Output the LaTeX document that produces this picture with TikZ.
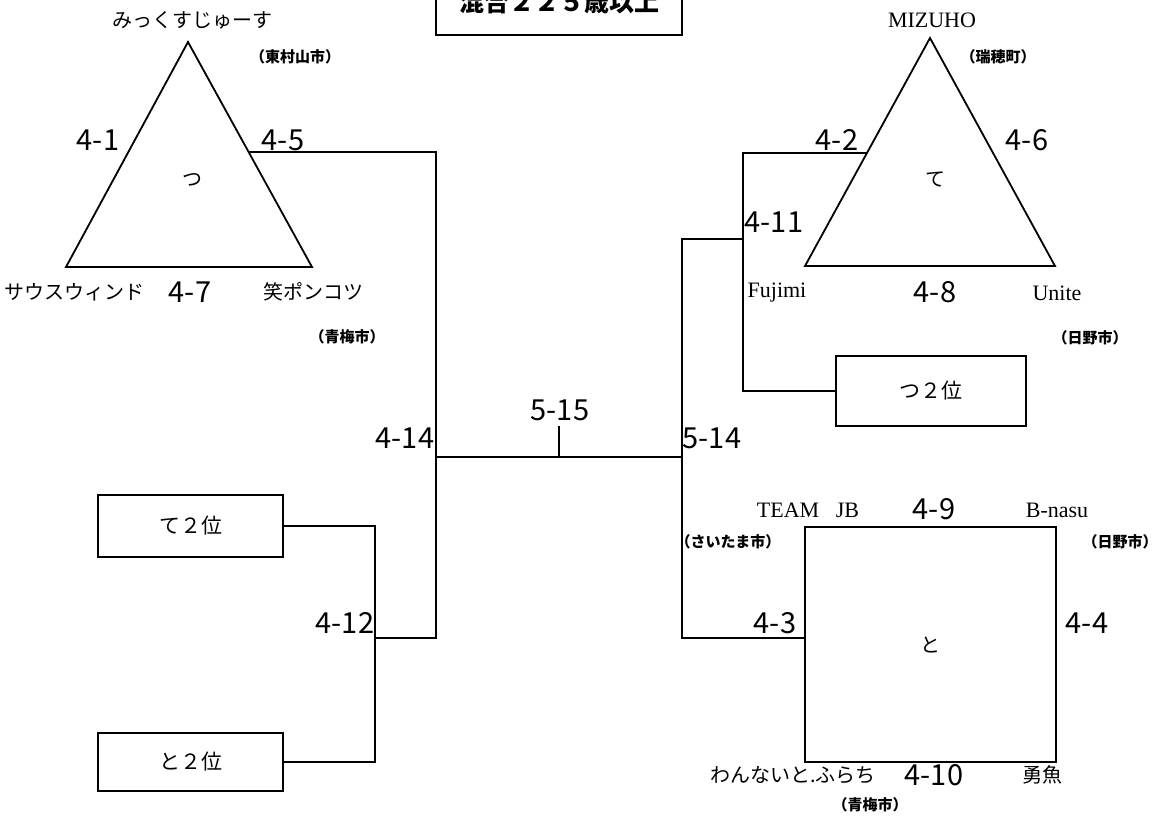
\documentclass[tikz,border=0pt]{standalone}
\usepackage{fontspec}
\setmainfont{Liberation Serif}
\newfontfamily\jpfont{Noto Sans CJK JP}
\usetikzlibrary{calc}
\begin{document}
\begin{tikzpicture}[x=1pt,y=-1pt,line width=1.8pt,
  every node/.style={inner sep=0pt},
  num/.style={font=\jpfont\fontsize{29}{31}\selectfont},
  team/.style={font=\jpfont\fontsize{20}{22}\selectfont},
  eteam/.style={font=\fontsize{22}{24}\selectfont},
  city/.style={font=\jpfont\bfseries\fontsize{15}{17}\selectfont},
  rankbox/.style={draw,minimum width=185pt,font=\jpfont\fontsize{21}{23}\selectfont}]
\useasboundingbox (0,0) rectangle (1160,819);
\node[draw,minimum width=246pt,minimum height=66pt,font=\jpfont\bfseries\fontsize{25}{27}\selectfont] (title) at (559,2) {混合２２５歳以上};
\coordinate (tsA) at (188,42);
\coordinate (tsB) at (66,267);
\coordinate (tsC) at (312,267);
\draw (tsA) -- (tsB) -- (tsC) -- cycle;
\coordinate (c45) at ($(tsA)!0.49!(tsC)$);
\coordinate (ttA) at (930,38);
\coordinate (ttB) at (805,266);
\coordinate (ttC) at (1055,266);
\draw (ttA) -- (ttB) -- (ttC) -- cycle;
\coordinate (c42) at ($(ttA)!0.504!(ttB)$);
\node[draw,minimum width=251pt,minimum height=235pt,team] (to) at (930.5,644.5) {と};
\coordinate (c43) at (805,638);
\node[rankbox,minimum height=62pt] (te2) at (190.5,526) {て２位};
\node[rankbox,minimum height=58pt] (to2) at (190.5,762) {と２位};
\node[rankbox,minimum width=190pt,minimum height=70pt] (tsu2) at (931,391) {つ２位};
\coordinate (m14) at (436,457);
\coordinate (m514) at (682,457);
\coordinate (j12) at (375,638);
\coordinate (j11) at (743,239);
\coordinate (f) at (559,457);
\coordinate (f515) at (559,426);
\draw (c45) -| (m14) |- (j12);
\draw (te2.east) -| (j12) |- (to2.east);
\draw (m14) -- (m514);
\draw (f) -- (f515);
\draw (c42) -| (j11) |- (tsu2.west);
\draw (j11) -| (m514) |- (c43);
\node[team] (tsu) at (192,180) {つ};
\node[team] (te) at (935,180) {て};
\node[team] (n1) at (192,20) {みっくすじゅーす};
\node[team] (n2) at (75,292) {サウスウィンド};
\node[team] (n3) at (313,292) {笑ポンコツ};
\node[eteam] (n4) at (932,20) {MIZUHO};
\node[eteam] (n5) at (777,293) {Fujimi};
\node[eteam] (n6) at (1057,293) {Unite};
\node[eteam] (n7) at (808,510) {TEAM\hspace{0.75em}JB};
\node[eteam] (n8) at (1057,510) {B-nasu};
\node[team] (n9) at (793,775) {わんないと.ふらち};
\node[team] (n10) at (1042,775) {勇魚};
\node[city] (k1) at (295,57) {（東村山市）};
\node[city] (k2) at (347,337) {（青梅市）};
\node[city] (k3) at (998,57) {（瑞穂町）};
\node[city] (k4) at (1090,338) {（日野市）};
\node[city] (k5) at (728,542) {（さいたま市）};
\node[city] (k6) at (1120,542) {（日野市）};
\node[city] (k7) at (870,805) {（青梅市）};
\node[num] (g41) at (98,140) {4-1};
\node[num] (g45) at (283,140) {4-5};
\node[num] (g47) at (190,292) {4-7};
\node[num] (g42) at (837,140) {4-2};
\node[num] (g46) at (1027,140) {4-6};
\node[num] (g48) at (935,292) {4-8};
\node[num] (g411) at (774,222) {4-11};
\node[num] (g515) at (560,410) {5-15};
\node[num] (g414) at (405,438) {4-14};
\node[num] (g514) at (712,438) {5-14};
\node[num] (g412) at (345,623) {4-12};
\node[num] (g49) at (934,509) {4-9};
\node[num] (g43) at (775,623) {4-3};
\node[num] (g44) at (1087,623) {4-4};
\node[num] (g410) at (934,775) {4-10};
\end{tikzpicture}
\end{document}
